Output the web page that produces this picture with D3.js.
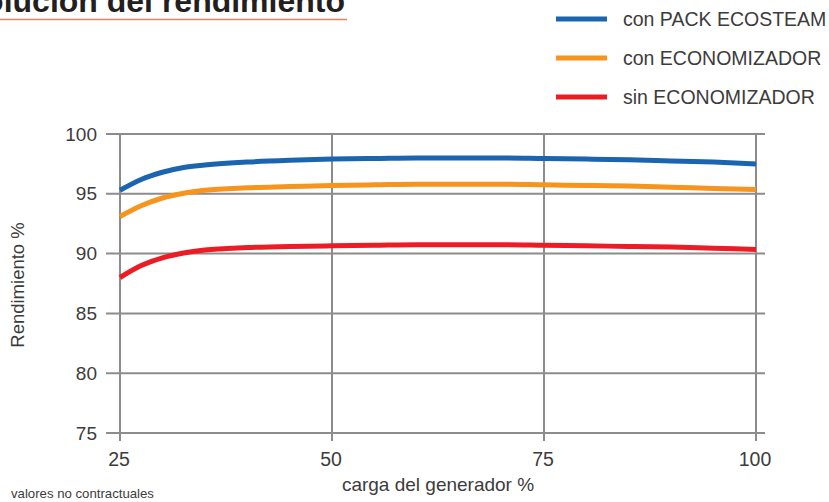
<!DOCTYPE html>
<html lang="es">
<head>
<meta charset="utf-8">
<title>Evolución del rendimiento</title>
<script src="https://d3js.org/d3.v7.min.js"></script>
<style>
  body { margin: 0; background: #fff; }
  svg text { font-family: "Liberation Sans", Arial, sans-serif; fill: #3c3c3c; }
  .grid line { stroke: #8c8c8c; stroke-width: 2px; }
  .curve { fill: none; stroke-width: 5px; stroke-linecap: butt; }
</style>
</head>
<body>
<svg id="chart" width="829" height="502"></svg>
<script>
// carga del generador (%)
const carga = [25, 27.5, 30, 32.5, 35, 40, 45, 50, 55, 60, 65, 70, 75, 80, 85, 90, 95, 100];
// rendimiento (%) por serie
const packEcosteam   = [95.3, 96.2, 96.8, 97.2, 97.4, 97.65, 97.8, 97.9, 97.95, 98.0, 98.0, 98.0, 97.95, 97.9, 97.85, 97.75, 97.65, 97.5];
const conEconomizador = [93.1, 94.0, 94.65, 95.05, 95.3, 95.5, 95.6, 95.7, 95.75, 95.8, 95.8, 95.8, 95.75, 95.7, 95.65, 95.55, 95.45, 95.35];
const sinEconomizador = [88.0, 89.0, 89.65, 90.05, 90.3, 90.5, 90.6, 90.65, 90.7, 90.75, 90.75, 90.75, 90.7, 90.65, 90.6, 90.55, 90.45, 90.35];

const seriesNames = ["con PACK ECOSTEAM", "con ECONOMIZADOR", "sin ECONOMIZADOR"];
const seriesColors = ["#1a64b0", "#f7941d", "#ec1c24"];
const xTicks = [25, 50, 75, 100];
const yTicks = [75, 80, 85, 90, 95, 100];

const svg = d3.select("#chart");

const x = d3.scaleLinear().domain([25, 100]).range([120, 756]);
const y = d3.scaleLinear().domain([75, 100]).range([433, 134]);

// title, cut on the left like the original
svg.append("text")
    .attr("x", 345).attr("y", 12)
    .attr("text-anchor", "end")
    .style("font-size", "32px")
    .style("font-weight", "bold")
    .style("fill", "#231f20")
    .text("Evolución del rendimiento");
svg.append("line")
    .attr("x1", 0).attr("x2", 347)
    .attr("y1", 19.5).attr("y2", 19.5)
    .attr("stroke", "#ef7f5f").attr("stroke-width", 1.5);

// grid
const grid = svg.append("g").attr("class", "grid");
grid.selectAll(".h").data(yTicks).join("line")
    .attr("class", "h")
    .attr("x1", 106).attr("x2", 765)
    .attr("y1", d => y(d)).attr("y2", d => y(d));
grid.selectAll(".v").data(xTicks).join("line")
    .attr("class", "v")
    .attr("x1", d => x(d)).attr("x2", d => x(d))
    .attr("y1", y(100)).attr("y2", 441);

// tick labels
svg.append("g").selectAll("text").data(yTicks).join("text")
    .attr("x", 97).attr("y", d => y(d))
    .attr("dy", "0.35em")
    .attr("text-anchor", "end")
    .style("font-size", "19px")
    .text(d => d);
svg.append("g").selectAll("text").data(xTicks).join("text")
    .attr("x", d => x(d) - 1).attr("y", 459)
    .attr("dy", "0.35em")
    .attr("text-anchor", "middle")
    .style("font-size", "19.5px")
    .text(d => d);

// axis titles
svg.append("text")
    .attr("transform", "translate(18,285) rotate(-90)")
    .attr("dy", "0.35em")
    .attr("text-anchor", "middle")
    .style("font-size", "18.5px")
    .text("Rendimiento %");
svg.append("text")
    .attr("x", 438).attr("y", 491)
    .attr("text-anchor", "middle")
    .style("font-size", "19px")
    .text("carga del generador %");
svg.append("text")
    .attr("x", 11).attr("y", 493)
    .attr("dy", "0.35em")
    .style("font-size", "13.2px")
    .text("valores no contractuales");

// curves
const series = [packEcosteam, conEconomizador, sinEconomizador];
const line = d3.line()
    .x((d, i) => x(carga[i]))
    .y(d => y(d))
    .curve(d3.curveMonotoneX);
svg.append("g").selectAll("path").data(series).join("path")
    .attr("class", "curve")
    .attr("stroke", (d, i) => seriesColors[i])
    .attr("d", line);

// legend
const legend = svg.append("g").selectAll("g").data(seriesNames).join("g")
    .attr("transform", (d, i) => "translate(556," + (19 + i * 39) + ")");
legend.append("line")
    .attr("x1", 0).attr("x2", 51)
    .attr("stroke", (d, i) => seriesColors[i])
    .attr("stroke-width", 5);
legend.append("text")
    .attr("x", 67).attr("dy", "0.35em")
    .style("font-size", "19.5px")
    .text(d => d);
</script>
</body>
</html>
